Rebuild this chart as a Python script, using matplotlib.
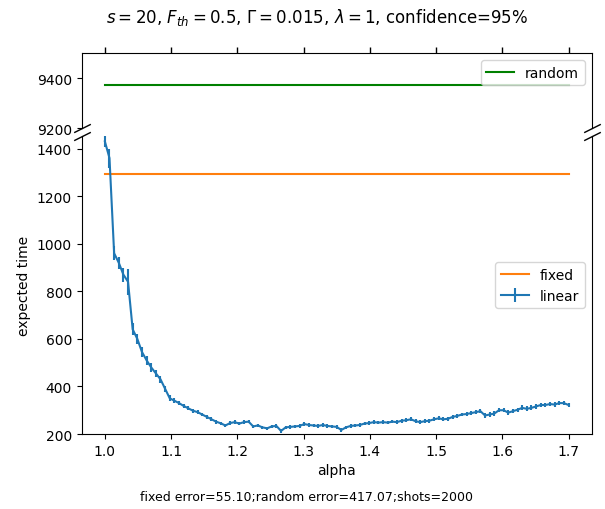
import numpy as np
import matplotlib
matplotlib.use("Agg")
import matplotlib.pyplot as plt

# alpha grid (step 0.007)
alpha = [round(1.0 + 0.007 * i, 3) for i in range(101)]

linear_time = [
    1430, 1360, 960, 920, 870, 840, 640, 600, 545, 510,
    480, 455, 430, 390, 350, 340, 330, 318, 308, 298,
    292, 282, 272, 262, 252, 245, 236, 246, 250, 244,
    250, 252, 232, 236, 228, 224, 232, 234, 213, 228,
    230, 232, 234, 242, 238, 236, 234, 238, 234, 232,
    230, 217, 228, 234, 236, 238, 244, 246, 250, 248,
    250, 248, 252, 250, 256, 258, 262, 254, 250, 254,
    256, 262, 266, 262, 264, 272, 276, 282, 284, 288,
    292, 296, 278, 282, 286, 300, 300, 290, 296, 302,
    310, 306, 310, 316, 322, 322, 326, 324, 330, 330,
    322,
]
linear_err = [
    25, 40, 30, 25, 30, 55, 25, 22, 20, 18,
    18, 16, 15, 14, 12, 11, 10, 10, 9, 9,
    9, 8, 8, 8, 8, 7, 7, 7, 7, 7,
    7, 7, 7, 7, 7, 7, 7, 7, 7, 7,
    7, 7, 7, 7, 7, 7, 7, 7, 7, 7,
    7, 7, 7, 7, 7, 7, 7, 7, 7, 7,
    7, 7, 7, 7, 8, 8, 8, 8, 8, 8,
    8, 8, 8, 8, 8, 8, 8, 8, 9, 9,
    9, 9, 9, 9, 9, 9, 9, 9, 9, 9,
    10, 10, 10, 10, 10, 10, 10, 10, 10, 10,
    10,
]
fixed_time = 1295
random_time = 9373

fixed_error = 55.10
random_error = 417.07
shots = 2000

fig = plt.figure(figsize=(6.05, 5.1), dpi=100)
left, right = 0.135, 0.978
ax_top = fig.add_axes([left, 0.747, right - left, 0.147])
ax_bot = fig.add_axes([left, 0.147, right - left, 0.584])

ax_top.plot([alpha[0], alpha[-1]], [random_time, random_time], color='green', label='random')
ax_bot.plot([alpha[0], alpha[-1]], [fixed_time, fixed_time], color='C1', label='fixed')
ax_bot.errorbar(alpha, linear_time, yerr=linear_err, color='C0', label='linear')

ax_top.set_xlim(ax_bot.get_xlim())
ax_top.set_xticks([1.0, 1.1, 1.2, 1.3, 1.4, 1.5, 1.6, 1.7])
ax_top.set_ylim(9200, 9500)
ax_top.set_yticks([9200, 9400])
ax_bot.set_ylim(200, 1452)

# broken axis styling
ax_top.spines['bottom'].set_visible(False)
ax_bot.spines['top'].set_visible(False)
ax_top.tick_params(axis='x', top=True, bottom=False,
                   labeltop=False, labelbottom=False,
                   direction='out', length=4.5, width=1, color='k')
ax_bot.tick_params(axis='x', top=False)

d = .5
kw = dict(marker=[(-1, -d), (1, d)], markersize=12,
          linestyle="none", color='k', mec='k', mew=1, clip_on=False)
ax_top.plot([0, 1], [0, 0], transform=ax_top.transAxes, **kw)
ax_bot.plot([0, 1], [1, 1], transform=ax_bot.transAxes, **kw)

ax_top.legend(loc='upper right')
ax_bot.legend(loc='center right')

ax_bot.set_xlabel('alpha')
ax_bot.set_ylabel('expected time')

fig.suptitle(r'$s=20$, $F_{th}=0.5$, $\Gamma=0.015$, $\lambda=1$, confidence=95%',
             x=0.525, y=0.965, va='center', fontsize=12)
fig.text(0.507, 0.025,
         f'fixed error={fixed_error:.2f};random error={random_error:.2f};shots={shots}',
         ha='center', va='center', fontsize=9)

fig.savefig('out.png', dpi=100)
